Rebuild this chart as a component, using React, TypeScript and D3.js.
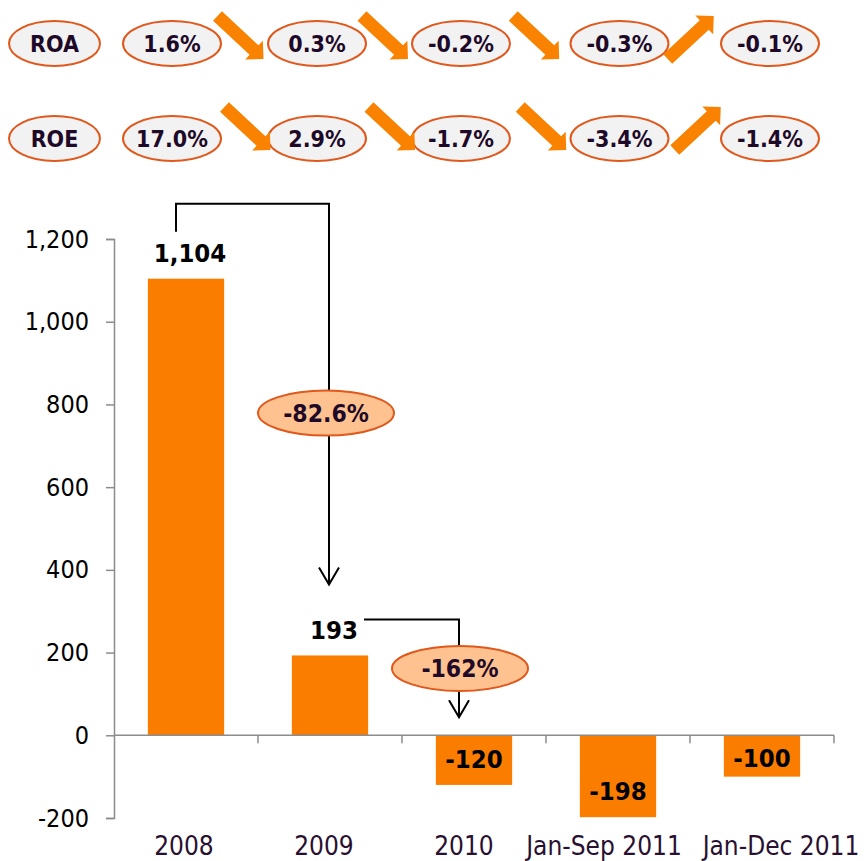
import * as d3 from "d3";
import { useEffect, useRef } from "react";

const categories = ["2008", "2009", "2010", "Jan-Sep 2011", "Jan-Dec 2011"];
const netProfit = [1104, 193, -120, -198, -100];
const yTicks = [-200, 0, 200, 400, 600, 800, 1000, 1200];

const ratioNames = ["ROA", "ROE"];
const roaValues = [1.6, 0.3, -0.2, -0.3, -0.1];
const roeValues = [17.0, 2.9, -1.7, -3.4, -1.4];
const changeLabels = ["-82.6%", "-162%"];

const FONT = "'DejaVu Sans Condensed', 'DejaVu Sans', sans-serif";
const ORANGE = "#FA7D00";
const PILL_STROKE = "#E0581C";
const DARK = "#1E0A28";

// layout of the ratio rows and label nudges
const pillCols = [172, 317, 461, 619.5, 770];
const rowY = [43.5, 138.5];
const rowArrowDx = [-4, 3];
const rowArrowDy = [-6, -10];
const catNudge = [-2, -6, -10, -14, 19];

const fmt = d3.formatLocale({
  decimal: ".",
  thousands: ",",
  grouping: [3],
  currency: ["", ""],
  minus: "-"
}).format(",");

const App = () => {
  const ref = useRef(null);

  useEffect(() => {
    document.body.style.margin = "0";
    const svg = d3.select(ref.current);
    svg.selectAll("*").remove();

    const x = d3.scaleBand()
      .domain(categories)
      .range([114, 834])
      .paddingInner(0.47)
      .paddingOuter(0.235);

    const y = d3.scaleLinear().domain([-200, 1200]).range([818, 239]);
    const cx = (c) => x(c) + x.bandwidth() / 2;

    // y axis
    const yAxis = svg.append("g")
      .attr("transform", "translate(114,0)")
      .call(d3.axisLeft(y).tickValues(yTicks).tickSize(8).tickPadding(17).tickFormat(fmt));
    yAxis.select(".domain").attr("stroke", "#8c8c8c").attr("stroke-width", 1.5);
    yAxis.selectAll(".tick line").attr("stroke", "#8c8c8c").attr("stroke-width", 1.5);
    yAxis.selectAll("text")
      .attr("font-family", FONT)
      .attr("font-size", 25)
      .attr("fill", "#000");

    // bars
    svg.append("g")
      .selectAll("rect")
      .data(netProfit)
      .enter()
      .append("rect")
      .attr("x", (d, i) => x(categories[i]))
      .attr("width", x.bandwidth())
      .attr("y", d => Math.min(y(d), y(0)))
      .attr("height", d => Math.abs(y(d) - y(0)))
      .attr("fill", ORANGE);

    // x axis at zero
    const zero = y(0);
    svg.append("line")
      .attr("x1", 114).attr("x2", 834)
      .attr("y1", zero).attr("y2", zero)
      .attr("stroke", "#8c8c8c").attr("stroke-width", 1.5);
    categories.forEach((c) => {
      const edge = x(c) + x.bandwidth() + x.step() * x.paddingInner() / 2;
      svg.append("line")
        .attr("x1", edge).attr("x2", edge)
        .attr("y1", zero).attr("y2", zero + 8)
        .attr("stroke", "#8c8c8c").attr("stroke-width", 1.5);
    });

    svg.append("g")
      .selectAll("text")
      .data(categories)
      .enter()
      .append("text")
      .attr("x", (d, i) => cx(d) + catNudge[i])
      .attr("y", 855)
      .attr("text-anchor", "middle")
      .attr("font-family", FONT)
      .attr("font-size", 26)
      .attr("fill", "#2a1030")
      .text(d => d);

    // value labels
    svg.append("g")
      .selectAll("text")
      .data(netProfit)
      .enter()
      .append("text")
      .attr("x", (d, i) => cx(categories[i]) + (d > 0 ? 4 : 0))
      .attr("y", d => d > 0 ? y(d) - 26 : Math.max(y(d) - 26, zero + 23))
      .attr("dy", "0.36em")
      .attr("text-anchor", "middle")
      .attr("font-family", FONT)
      .attr("font-weight", "bold")
      .attr("font-size", 25.5)
      .attr("fill", "#000")
      .text(d => fmt(d));

    // change connectors
    const arrowHead = (g, px, py) => {
      g.append("path")
        .attr("d", `M${px - 10},${py - 17}L${px},${py}L${px + 10},${py - 17}`)
        .attr("fill", "none").attr("stroke", "#000").attr("stroke-width", 2);
    };
    const ellipse = (g, ex, ey, label) => {
      g.append("ellipse")
        .attr("cx", ex).attr("cy", ey).attr("rx", 68).attr("ry", 22.5)
        .attr("fill", "#FDC28F").attr("stroke", PILL_STROKE).attr("stroke-width", 2);
      g.append("text")
        .attr("x", ex).attr("y", ey).attr("dy", "0.36em")
        .attr("text-anchor", "middle")
        .attr("font-family", FONT).attr("font-weight", "bold").attr("font-size", 24.5)
        .attr("fill", DARK)
        .text(label);
    };

    const conn = svg.append("g");
    const c0 = cx(categories[0]) - 10;
    const c1 = cx(categories[1]) - 1;
    const top0 = y(netProfit[0]) - 75;
    conn.append("path")
      .attr("d", `M${c0},${y(netProfit[0]) - 47}V${top0}H${c1}V${y(netProfit[1]) - 71}`)
      .attr("fill", "none").attr("stroke", "#000").attr("stroke-width", 2);
    arrowHead(conn, c1, y(netProfit[1]) - 71);
    ellipse(conn, c1 - 3, (top0 + y(netProfit[1])) / 2 - 16.5, changeLabels[0]);

    const c2 = cx(categories[2]) - 15;
    const h1 = y(netProfit[1]) - 36;
    conn.append("path")
      .attr("d", `M${cx(categories[1]) + 34},${h1}H${c2}V${zero - 18}`)
      .attr("fill", "none").attr("stroke", "#000").attr("stroke-width", 2);
    arrowHead(conn, c2, zero - 18);
    ellipse(conn, c2 + 1, h1 + 49, changeLabels[1]);

    // ratio rows
    const rows = [roaValues, roeValues];
    rows.forEach((vals, r) => {
      const g = svg.append("g");
      const cy = rowY[r];
      const pill = (px, rx, label) => {
        g.append("ellipse")
          .attr("cx", px).attr("cy", cy).attr("rx", rx).attr("ry", 22.5)
          .attr("fill", "#F2F2F2").attr("stroke", PILL_STROKE).attr("stroke-width", 2);
        g.append("text")
          .attr("x", px).attr("y", cy).attr("dy", "0.36em")
          .attr("text-anchor", "middle")
          .attr("font-family", FONT).attr("font-weight", "bold").attr("font-size", 23)
          .attr("fill", DARK)
          .text(label);
      };
      pill(54.5, 45.5, ratioNames[r]);
      vals.forEach((v, i) => pill(pillCols[i], 49, v.toFixed(1) + "%"));

      for (let i = 0; i < vals.length - 1; i++) {
        const midX = (pillCols[i] + pillCols[i + 1]) / 2 + rowArrowDx[r];
        const midY = cy + rowArrowDy[r];
        const down = vals[i + 1] < vals[i];
        const sx = 23, sy = 21.5;
        const T = [midX - sx, down ? midY - sy : midY + sy];
        const P = [midX + sx, down ? midY + sy : midY - sy];
        const L = Math.hypot(P[0] - T[0], P[1] - T[1]);
        const u = [(P[0] - T[0]) / L, (P[1] - T[1]) / L];
        const n = [-u[1], u[0]];
        const w = 6.5, h = 13, hl = 13;
        const B = [P[0] - u[0] * hl, P[1] - u[1] * hl];
        const pt = (base, k) => [base[0] + n[0] * k, base[1] + n[1] * k];
        const pts = [pt(T, w), pt(B, w), pt(B, h), P, pt(B, -h), pt(B, -w), pt(T, -w)];
        g.append("path")
          .attr("d", d3.line()(pts) + "Z")
          .attr("fill", "#F98200");
      }
    });
  }, []);

  return <svg ref={ref} width={866} height={861} style={{ display: "block" }}></svg>;
};

export default App;
